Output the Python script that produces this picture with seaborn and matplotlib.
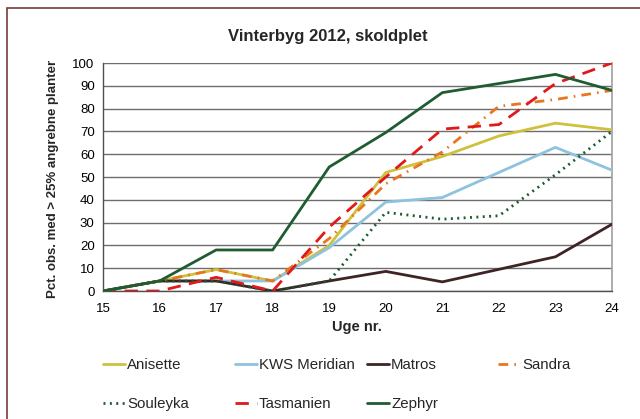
import matplotlib
matplotlib.use("Agg")
import matplotlib.pyplot as plt
import matplotlib.patches as mpatches
from matplotlib.lines import Line2D
import seaborn as sns
import pandas as pd

sns.set_theme(style="white")
plt.rcParams['font.family'] = ['Liberation Sans', 'DejaVu Sans']

weeks = [15, 16, 17, 18, 19, 20, 21, 22, 23, 24]
anisette = [0, 4.4, 9.4, 4.4, 20, 52, 59, 68, 73.6, 70.7]
kws_meridian = [0, 4.4, 4.4, 4.4, 19, 39, 41, 52, 63, 53]
matros = [0, 4.4, 4.4, 0, 4.4, 8.6, 4, 9.5, 15, 29.3]
sandra = [0, 4.4, 9.4, 4.4, 23, 47, 61, 81, 84, 88]
souleyka = [0, 4.4, 4.4, 0, 4.4, 34.5, 31.5, 33, 51, 70]
tasmanien = [0, 0, 6, 0, 28, 50, 71, 73, 91, 100]
zephyr = [0, 4.4, 18, 18, 54.4, 69.5, 87, 91, 95, 88]

names = ["Anisette", "KWS Meridian", "Matros", "Sandra",
         "Souleyka", "Tasmanien", "Zephyr"]
series = [anisette, kws_meridian, matros, sandra, souleyka, tasmanien, zephyr]
colors = ["#CFC13C", "#8DC3DE", "#3E2424", "#E8761E",
          "#1C5A30", "#E0191B", "#1F5C31"]
styles = ["-", "-", "-", (0, (3.5, 2.2, 0.6, 2.2)), (0, (0.7, 1.6)),
          (0, (4.8, 3)), "-"]

rows = []
for n, vals in zip(names, series):
    for w, v in zip(weeks, vals):
        rows.append({"Uge": w, "Pct": v, "Sort": n})
df = pd.DataFrame(rows)

fig = plt.figure(figsize=(6.4, 4.19), dpi=100)
ax = fig.add_axes([103/640, 1-291/419, (612-103)/640, (291-63)/419])

for n, c, ls in zip(names, colors, styles):
    sub = df[df["Sort"] == n]
    sns.lineplot(data=sub, x="Uge", y="Pct", ax=ax, color=c, linewidth=2.0,
                 linestyle=ls, legend=False, zorder=3)

ax.set_xlim(15, 24)
ax.set_ylim(0, 100)
ax.set_xticks(weeks)
ax.set_yticks(range(0, 101, 10))
ax.yaxis.grid(True, color="#6E6E6E", linewidth=1.0)
ax.set_axisbelow(True)
ax.tick_params(axis="both", which="both", direction="out", length=4,
               width=1, labelsize=9.5, pad=2, labelcolor="#000000",
               color="#808080")
ax.tick_params(axis="x", pad=5)
for s in ["left", "bottom"]:
    ax.spines[s].set_color("#505050")
    ax.spines[s].set_linewidth(1.0)
ax.spines["top"].set_visible(False)
ax.spines["right"].set_color("#A0A0A0")
ax.spines["right"].set_linewidth(1.2)

ax.set_xlabel("Uge nr.", fontsize=10.5, fontweight="bold", va="center")
ax.xaxis.set_label_coords((357-103)/509, -(327-291)/228)
ax.set_ylabel("Pct. obs. med > 25% angrebne planter", fontsize=9.5,
              fontweight="bold", va="center")
ax.yaxis.set_label_coords((53-103)/509, (291-179)/228)

fig.text(328/640, 1-36/419, "Vinterbyg 2012, skoldplet", fontsize=12,
         fontweight="bold", ha="center", va="center")

# outer chart frame
frame = mpatches.Rectangle((7/640, -0.1), 1.2, 1 - 8/419 + 0.1,
                           transform=fig.transFigure, fill=False,
                           edgecolor="#7A3A3A", linewidth=1.2)
fig.patches.append(frame)

# legend, four columns placed at fixed positions
col_x = [103, 235, 367, 498]
cols = [[0, 4], [1, 5], [2, 6], [3]]
for cx, idx in zip(col_x, cols):
    handles = [Line2D([], [], color=colors[i], linestyle=styles[i], linewidth=2.0)
               for i in idx]
    labels = [names[i] for i in idx]
    fig.legend(handles, labels, loc="upper left",
               bbox_to_anchor=(cx/640, 1-358/419), frameon=False,
               fontsize=10.8, handlelength=1.47, handletextpad=0.13,
               labelspacing=1.65, borderpad=0, borderaxespad=0)

fig.savefig("out.png", dpi=100)
